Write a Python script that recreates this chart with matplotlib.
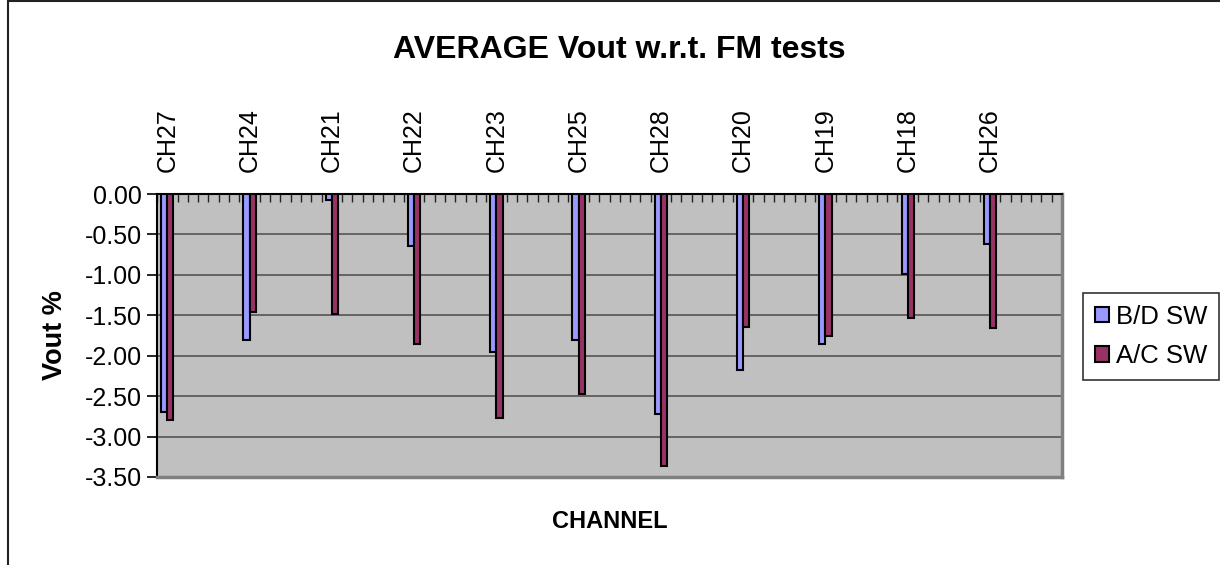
import numpy as np
import matplotlib
matplotlib.use("Agg")
import matplotlib.pyplot as plt
from matplotlib.patches import Rectangle

plt.rcParams['font.family'] = ['Liberation Sans', 'DejaVu Sans']
plt.rcParams['axes.unicode_minus'] = False

# data
channels = ["CH27", "CH24", "CH21", "CH22", "CH23", "CH25", "CH28", "CH20", "CH19", "CH18", "CH26"]
bd_sw = [-2.69, -1.80, -0.07, -0.64, -1.95, -1.80, -2.72, -2.18, -1.85, -0.99, -0.62]
ac_sw = [-2.79, -1.46, -1.48, -1.85, -2.77, -2.47, -3.36, -1.65, -1.76, -1.53, -1.66]
yticks = [0.0, -0.5, -1.0, -1.5, -2.0, -2.5, -3.0, -3.5]

W, H = 1220, 565
fig = plt.figure(figsize=(W / 100, H / 100), dpi=100)
ax = fig.add_axes([157 / W, 1 - 477 / H, (1062 - 157) / W, (477 - 194) / H])
ax.set_facecolor("#C0C0C0")

# 8 category slots per channel, the channel sits in the 2nd slot
pos = np.arange(len(channels)) * 8 + 1
w = 0.6
ax.bar(pos - w / 2, bd_sw, w, color="#9999FF", edgecolor="black", linewidth=1.5, label="B/D SW", zorder=3)
ax.bar(pos + w / 2, ac_sw, w, color="#993366", edgecolor="black", linewidth=1.5, label="A/C SW", zorder=3)

ax.set_xlim(0, 88)
ax.set_ylim(-3.5, 0)
ax.set_yticks(yticks, labels=["%.2f" % v for v in yticks], fontsize=18)
for v in yticks[1:-1]:
    ax.axhline(v, color="#555555", lw=1.2, zorder=1)

ax.xaxis.tick_top()
ax.set_xticks(pos, labels=channels, rotation=90, fontsize=18)
ax.set_xticks(np.arange(0, 89), minor=True)
ax.tick_params(axis="x", which="both", direction="in", length=6, width=1, color="#222222", pad=16)
ax.tick_params(axis="y", direction="out", length=7, width=1.2, pad=4)

for s in ["left", "top"]:
    ax.spines[s].set_color("black")
    ax.spines[s].set_linewidth(1.5)
for s in ["right", "bottom"]:
    ax.spines[s].set_color("#808080")
    ax.spines[s].set_linewidth(2.5)

ax.set_ylabel("Vout %", fontsize=19.5, fontweight="bold", labelpad=12)
fig.text(619 / W, 1 - 50 / H, "AVERAGE Vout w.r.t. FM tests", ha="center", va="center",
         fontsize=23, fontweight="bold")
fig.text(610 / W, 1 - 522 / H, "CHANNEL", ha="center", va="center", fontsize=17, fontweight="bold")

leg = fig.legend(loc="upper left", bbox_to_anchor=(1083 / W, 1 - 293 / H), fontsize=18.5,
                 frameon=True, fancybox=False, edgecolor="black", handlelength=0.55, handleheight=0.55,
                 handletextpad=0.3, borderpad=0.45, labelspacing=0.6, borderaxespad=0)
leg.get_frame().set_linewidth(1.2)

# outer chart frame
fig.add_artist(Rectangle((8 / W, -0.1), 1.2, 1.1 - 1.5 / H, transform=fig.transFigure,
                         fill=False, edgecolor="#222222", lw=1.5))

fig.savefig("out.png", dpi=100)
